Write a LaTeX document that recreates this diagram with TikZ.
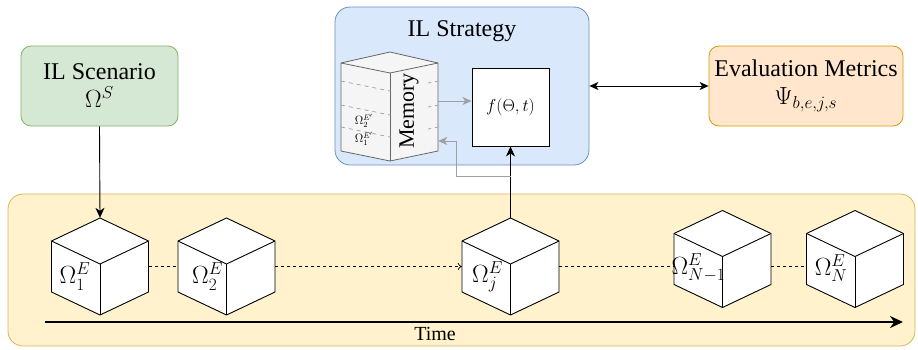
\documentclass[tikz,border=0pt]{standalone}
\usepackage{fontspec}
\setmainfont{Liberation Serif}
\usetikzlibrary{arrows.meta,calc}

\definecolor{greenfill}{HTML}{D5E8D4}
\definecolor{greenline}{HTML}{82B366}
\definecolor{bluefill}{HTML}{DAE8FC}
\definecolor{blueline}{HTML}{6C8EBF}
\definecolor{orangefill}{HTML}{FFE6CC}
\definecolor{orangeline}{HTML}{D79B00}
\definecolor{lanefill}{HTML}{FFF2CC}
\definecolor{laneline}{HTML}{D6B656}
\definecolor{memfill}{HTML}{F5F5F5}
\definecolor{memline}{HTML}{666666}
\definecolor{feedgray}{HTML}{A0A0A0}

% isometric cube drawn around a (invisible) square node
\newcommand\drawisocube[1]{%
  \filldraw[cubeline] ($(#1.center)+(0,-48.5)$) -- ++(48.5,23) -- ++(0,51)
    -- ++(-48.5,23) -- ++(-48.5,-23) -- ++(0,-51) -- cycle;
  \draw[cubeline] ($(#1.center)+(-48.5,-25.5)$) -- ++(48.5,23) -- ++(48.5,-23);
  \draw[cubeline] ($(#1.center)+(0,-2.5)$) -- ++(0,51);
}

\begin{document}
\begin{tikzpicture}[x=1pt,y=-1pt,
  box/.style={rounded corners=10pt, line width=0.8pt, inner sep=0pt, align=center},
  titlefont/.style={font=\rmfamily\fontsize{24}{28}\selectfont},
  cubenode/.style={minimum width=97pt, minimum height=97pt, inner sep=0pt},
  cubeline/.style={draw=black, fill=white, line width=0.9pt, line join=round},
  cubelabel/.style={inner sep=0pt, font=\fontsize{24}{28}\selectfont},
  tip/.style={Stealth[length=10pt,width=9pt,inset=3pt]},
  arr/.style={draw=black, line width=0.9pt, -{Stealth[length=10pt,width=9pt,inset=3pt]}},
  grayarr/.style={draw=feedgray, line width=0.9pt, -{Stealth[length=9pt,width=8pt,inset=2.5pt]}},
  dashline/.style={draw=black, line width=0.7pt, dash pattern=on 3pt off 3pt},
  memstyle/.style={draw=memline, line width=0.8pt, line join=round},
  memdash/.style={draw=memline!70, line width=0.6pt, dash pattern=on 4pt off 4pt},
  memsmall/.style={inner sep=0pt, font=\fontsize{12}{13}\selectfont},
]
\useasboundingbox (0,0) rectangle (918,349);

% time lane
\node[box, draw=laneline, fill=lanefill, rounded corners=15pt,
  minimum width=907pt, minimum height=152pt] (lane) at (461.5,270) {};

% scenario, strategy and metrics boxes
\node[box, titlefont, draw=greenline, fill=greenfill,
  minimum width=157pt, minimum height=80pt] (scen) at (99.5,86)
  {IL Scenario\\$\Omega^S$};
\node[box, draw=blueline, fill=bluefill, rounded corners=15pt,
  minimum width=254pt, minimum height=158pt] (strat) at (462,86) {};
\node[titlefont, inner sep=0pt] (stitle) at (462,31) {IL Strategy};
\node[box, titlefont, draw=orangeline, fill=orangefill,
  minimum width=194pt, minimum height=80pt] (eval) at (806,86)
  {Evaluation Metrics\\$\Psi_{b,e,j,s}$};
\node[draw=black, fill=white, line width=0.9pt, minimum width=77pt,
  minimum height=78pt, inner sep=0pt, font=\fontsize{16}{18}\selectfont]
  (f) at (510.5,107) {$f(\Theta,t)$};

% memory stack
\node[minimum width=97pt, minimum height=110pt, inner sep=0pt] (mem) at (389.5,107) {};
\filldraw[memstyle, fill=memfill] (390,52) -- (438,63) -- (438,151) -- (390,161)
  -- (341,151) -- (341,63) -- cycle;
\draw[memstyle] (341,63) -- (390,73) -- (438,63);
\draw[memstyle] (390,73) -- (390,161);
\foreach \y in {81,105,127}
  \draw[memdash] (341,\y) -- (390,\y+10) -- (438,\y);
\node[rotate=90, fill=memfill, minimum width=65pt, minimum height=37pt,
  inner sep=0pt, font=\fontsize{22}{22}\selectfont] (memlabel) at (409,111) {Memory};
\node[memsmall] (m2) at (364,121) {$\Omega_2^{E'}$};
\node[memsmall] (m1) at (364,139) {$\Omega_1^{E'}$};

% experiences along time
\node[cubenode] (c1) at (100,266.5) {};
\node[cubenode] (c2) at (226.5,266.5) {};
\node[cubenode] (cj) at (510.5,266.5) {};
\node[cubenode] (cN1) at (722.5,259) {};
\node[cubenode] (cN) at (855,259) {};
\drawisocube{c1}
\drawisocube{c2}
\drawisocube{cj}
\drawisocube{cN1}
\drawisocube{cN}
\node[cubelabel] (l1) at ($(c1.center)+(-25,10)$) {$\Omega_1^E$};
\node[cubelabel] (l2) at ($(c2.center)+(-19,10)$) {$\Omega_2^E$};
\node[cubelabel] (lj) at ($(cj.center)+(-23,10)$) {$\Omega_j^E$};
\node[cubelabel] (lN1) at ($(cN1.center)+(-24,9)$) {$\Omega_{N-1}^E$};
\node[cubelabel] (lN) at ($(cN.center)+(-24,9)$) {$\Omega_N^E$};

% dashed sequence
\draw[dashline] (c1.east) -- (c2.west);
\draw[dashline, -{To[length=4pt,width=7pt]}] (c2.east) -- (cj.west);
\draw[dashline] (cj.east) -- (cj.east -| cN1.west);
\draw[dashline] (cN1.east |- cj.east) -- (cN.west |- cj.east);

% time axis
\coordinate (t0) at (45,322);
\coordinate (t1) at (903,322);
\draw[line width=2.5pt, -{Stealth[length=13pt,width=12pt]}] (t0) -- (t1);
\node[inner sep=0pt, font=\fontsize{20}{20}\selectfont] (time) at (435,334) {Time};

% connectors
\draw[arr] (scen.south) -- (c1.north);
\draw[arr] (cj.north) -- (f.south);
\coordinate (tap) at (cj.north |- 0,176);
\draw[grayarr] (tap) -- (456,176) |- (mem.east |- 0,141);
\draw[grayarr] (mem.east |- 0,101) -- (f.west |- 0,101);
\draw[line width=0.9pt, {Stealth[length=9pt,width=8pt,inset=2.5pt]}-{Stealth[length=9pt,width=8pt,inset=2.5pt]}]
  (strat.east) -- (eval.west);
\end{tikzpicture}
\end{document}
